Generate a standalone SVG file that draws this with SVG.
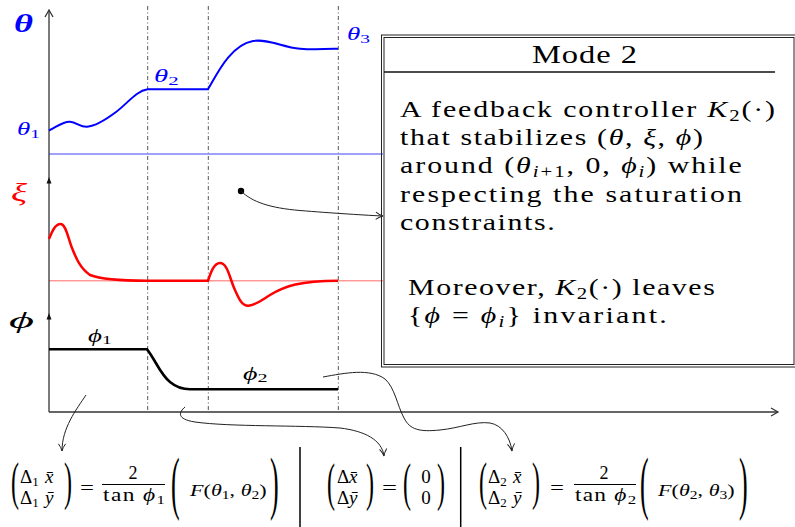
<svg xmlns="http://www.w3.org/2000/svg" width="795" height="527" viewBox="0 0 795 527">
<defs>
<style>
text { font-family: "Liberation Serif", "Times New Roman", serif; fill: #000; }
.i { font-style: italic; }
.axis { stroke: #333; stroke-width: 1.3; fill: none; }
.grid { stroke: #555; stroke-width: 1; stroke-dasharray: 4 2.5 1 2.5; fill: none; }
.conn { stroke: #222; stroke-width: 1; fill: none; }
.bt { font-size: 23px; }
.f { font-size: 19px; }
.fd { font-size: 18px; }
.fs { font-size: 13px; }
.blue { fill: #0000ff; }
.red { fill: #ff0000; }
</style>
<marker id="ah" viewBox="0 0 10 10" refX="9" refY="5" markerWidth="9" markerHeight="9" orient="auto" markerUnits="userSpaceOnUse">
<path d="M1,1 Q5,4 9,5 Q5,6 1,9" fill="none" stroke="#222" stroke-width="1.1"/>
</marker>
</defs>
<rect width="795" height="527" fill="#fff"/>

<g id="axes">
<line class="grid" x1="147.7" y1="6" x2="147.7" y2="412"/>
<line class="grid" x1="208.3" y1="6" x2="208.3" y2="412"/>
<line class="grid" x1="338.3" y1="6" x2="338.3" y2="412"/>
<line x1="49" y1="154" x2="383" y2="154" stroke="#8080ff" stroke-width="1.5"/>
<line x1="49" y1="280.7" x2="383" y2="280.7" stroke="#ff9a9a" stroke-width="1.5"/>
<line class="axis" x1="49" y1="10" x2="49" y2="412"/>
<line class="axis" x1="49" y1="412" x2="778" y2="412"/>
<path class="axis" d="M45,17 L49,10 L53,17"/>
<path class="axis" d="M771,408 L778,412 L771,416"/>
<polygon points="49,177 46.5,183.5 51.5,183.5" fill="#111"/>
<polygon points="49,313 46.5,319.5 51.5,319.5" fill="#111"/>
</g>

<g id="curves">
<path d="M49,130.5 C57,127 63,121 70,121.7 C77,122.5 80,127 87,126.7 C97,126 108,118 116,112 C128,103 136,91 147.7,89.3 L208,89.3 C216,76 230,45 253,41 C268,38.5 282,47 300,48.8 C315,50 330,49 338,48.7" fill="none" stroke="#0000ff" stroke-width="2"/>
<path d="M49,239 C52,232 55,224 60.5,224 C66,224 68,238 72,248 C76,258 80,268 90,275 C100,279 120,280.7 147,280.7 L208,280.7 C211,272 214,263 220,263 C228,263 230,280 235,290 C239,299 242,306 248.5,305.7 C256,305 262,300 270,295 C285,286 300,281 338,280.7" fill="none" stroke="#ff0000" stroke-width="2.5"/>
<path d="M49,349.3 L147,349.3 C155,359 160,374 170,382 C176,387 182,389.3 190,389.3 L338,389.3" fill="none" stroke="#000" stroke-width="2.6"/>
</g>

<g id="labels">
<text x="14" y="32" font-size="26" font-weight="bold" class="i blue" textLength="19" lengthAdjust="spacingAndGlyphs">θ</text>
<text transform="translate(17,135) scale(1.5,1)" font-size="18" class="blue"><tspan class="i">θ</tspan><tspan font-size="13" dy="3">1</tspan></text>
<text transform="translate(154,82) scale(1.6,1)" font-size="18" class="blue"><tspan class="i">θ</tspan><tspan font-size="13" dy="3">2</tspan></text>
<text transform="translate(347,40) scale(1.5,1)" font-size="18" class="blue"><tspan class="i">θ</tspan><tspan font-size="13" dy="3">3</tspan></text>
<text x="11" y="201" font-size="26" class="i red" textLength="16" lengthAdjust="spacingAndGlyphs">ξ</text>
<text x="9" y="328" font-size="24" class="i" textLength="25" lengthAdjust="spacingAndGlyphs">ϕ</text>
<text transform="translate(88,342) scale(1.5,1)" font-size="18"><tspan class="i">ϕ</tspan><tspan font-size="13" dy="2">1</tspan></text>
<text transform="translate(243,380) scale(1.55,1)" font-size="18"><tspan class="i">ϕ</tspan><tspan font-size="13" dy="2">2</tspan></text>
</g>

<g id="mode2">
<rect x="381.5" y="35" width="416" height="332" fill="none" stroke="#222" stroke-width="1"/>
<rect x="384" y="37.5" width="410" height="327" fill="none" stroke="#222" stroke-width="1"/>
<line x1="384" y1="72" x2="775" y2="72" stroke="#111" stroke-width="1.3"/>
<text transform="translate(532,63) scale(1.3,1)" font-size="25" textLength="80.8" lengthAdjust="spacing">Mode 2</text>
<text class="bt" transform="translate(400,117) scale(1.3,1)" textLength="288.5" lengthAdjust="spacing">A feedback controller <tspan class="i">K</tspan><tspan font-size="16" dy="4">2</tspan><tspan dy="-4">(·)</tspan></text>
<text class="bt" transform="translate(400,145) scale(1.3,1)" textLength="233" lengthAdjust="spacing">that stabilizes (<tspan class="i">θ</tspan>, <tspan class="i">ξ</tspan>, <tspan class="i">ϕ</tspan>)</text>
<text class="bt" transform="translate(400,173) scale(1.3,1)" textLength="263" lengthAdjust="spacing">around (<tspan class="i">θ</tspan><tspan font-size="16" dy="4"><tspan class="i">i</tspan>+1</tspan><tspan dy="-4">, 0, </tspan><tspan class="i">ϕ</tspan><tspan font-size="16" dy="4" class="i">i</tspan><tspan dy="-4">) while</tspan></text>
<text class="bt" transform="translate(400,202) scale(1.3,1)" textLength="263" lengthAdjust="spacing">respecting the saturation</text>
<text class="bt" transform="translate(400,230) scale(1.3,1)" textLength="119" lengthAdjust="spacing">constraints.</text>
<text class="bt" transform="translate(408,295) scale(1.3,1)" textLength="236" lengthAdjust="spacing">Moreover, <tspan class="i">K</tspan><tspan font-size="16" dy="4">2</tspan><tspan dy="-4">(·) leaves</tspan></text>
<text class="bt" transform="translate(408,323) scale(1.3,1)" textLength="199" lengthAdjust="spacing">{<tspan class="i">ϕ</tspan> = <tspan class="i">ϕ</tspan><tspan font-size="16" dy="4" class="i">i</tspan><tspan dy="-4">} invariant.</tspan></text>
</g>

<g id="connectors">
<circle cx="241" cy="191" r="3.2" fill="#000"/>
<path class="conn" d="M241,191 C252,202 270,208 300,210.5 S370,215.5 383,216" marker-end="url(#ah)"/>
<path class="conn" d="M86,395 C76,410 62,428 62,451" marker-end="url(#ah)"/>
<path class="conn" d="M185,407 C179,412 176,419 195,422 C230,427 300,425 340,428 C365,431 382,440 384,456" marker-end="url(#ah)"/>
<path class="conn" d="M323,377 C345,373 370,368 385,379 C395,388 397,405 404,418 C410,430 420,432 440,430 C460,428 475,421 490,423 C502,425 510,437 512,451" marker-end="url(#ah)"/>
</g>

<g id="separators">
<line x1="300" y1="447" x2="300" y2="527" stroke="#000" stroke-width="1.5"/>
<line x1="460.7" y1="447" x2="460.7" y2="527" stroke="#000" stroke-width="1.5"/>
</g>

<g id="eq1">
<text transform="translate(11,499) scale(1.2,2.6)" font-size="20">(</text>
<text class="f" x="20" y="483">Δ<tspan class="fs" dy="3">1</tspan></text>
<text class="f i" x="45" y="483">x̄</text>
<text class="f" x="20" y="504">Δ<tspan class="fs" dy="3">1</tspan></text>
<text class="f i" x="45" y="504">ȳ</text>
<text transform="translate(64,499) scale(1.2,2.6)" font-size="20">)</text>
<text class="f" x="80" y="494" textLength="14" lengthAdjust="spacingAndGlyphs">=</text>
<text class="fd" x="133" y="479" text-anchor="middle">2</text>
<line x1="102" y1="484.5" x2="165" y2="484.5" stroke="#000" stroke-width="1"/>
<text class="fd" transform="translate(103,501) scale(1.3,1)" textLength="47.7" lengthAdjust="spacing">tan <tspan class="i">ϕ</tspan><tspan class="fs" dy="3">1</tspan></text>
<text transform="translate(171,505.5) scale(1.3,3.5)" font-size="20">(</text>
<text transform="translate(190,496) scale(1.3,1)" font-size="17" textLength="59" lengthAdjust="spacing"><tspan class="i">F</tspan>(<tspan class="i">θ</tspan><tspan font-size="12" dy="3">1</tspan><tspan dy="-3">, </tspan><tspan class="i">θ</tspan><tspan font-size="12" dy="3">2</tspan><tspan dy="-3">)</tspan></text>
<text transform="translate(270,505.5) scale(1.3,3.5)" font-size="20">)</text>
</g>

<g id="eq2">
<text transform="translate(327,500) scale(1.2,2.6)" font-size="20">(</text>
<text class="f" x="337" y="483">Δ</text>
<text class="f i" x="349" y="483">x̄</text>
<text class="f" x="337" y="504">Δ</text>
<text class="f i" x="349" y="504">ȳ</text>
<text transform="translate(366,500) scale(1.2,2.6)" font-size="20">)</text>
<text class="f" x="382" y="494" textLength="15" lengthAdjust="spacingAndGlyphs">=</text>
<text transform="translate(403,500) scale(1.2,2.6)" font-size="20">(</text>
<text class="f" x="426" y="483" text-anchor="middle">0</text>
<text class="f" x="426" y="504" text-anchor="middle">0</text>
<text transform="translate(437,500) scale(1.2,2.6)" font-size="20">)</text>
</g>

<g id="eq3">
<text transform="translate(479,499) scale(1.2,2.6)" font-size="20">(</text>
<text class="f" x="488" y="483">Δ<tspan class="fs" dy="3">2</tspan></text>
<text class="f i" x="513" y="483">x̄</text>
<text class="f" x="488" y="504">Δ<tspan class="fs" dy="3">2</tspan></text>
<text class="f i" x="513" y="504">ȳ</text>
<text transform="translate(532,499) scale(1.2,2.6)" font-size="20">)</text>
<text class="f" x="550" y="494" textLength="14" lengthAdjust="spacingAndGlyphs">=</text>
<text class="fd" x="604" y="479" text-anchor="middle">2</text>
<line x1="574" y1="484.5" x2="636" y2="484.5" stroke="#000" stroke-width="1"/>
<text class="fd" transform="translate(575,501) scale(1.3,1)" textLength="47" lengthAdjust="spacing">tan <tspan class="i">ϕ</tspan><tspan class="fs" dy="3">2</tspan></text>
<text transform="translate(640,505.5) scale(1.3,3.5)" font-size="20">(</text>
<text transform="translate(658,496) scale(1.3,1)" font-size="17" textLength="59" lengthAdjust="spacing"><tspan class="i">F</tspan>(<tspan class="i">θ</tspan><tspan font-size="12" dy="3">2</tspan><tspan dy="-3">, </tspan><tspan class="i">θ</tspan><tspan font-size="12" dy="3">3</tspan><tspan dy="-3">)</tspan></text>
<text transform="translate(739,505.5) scale(1.3,3.5)" font-size="20">)</text>
</g>
</svg>
